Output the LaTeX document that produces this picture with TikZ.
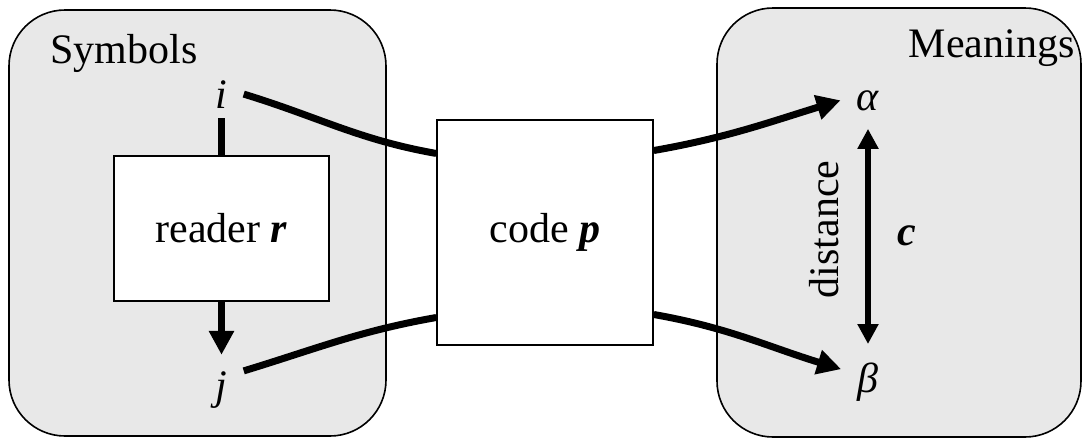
\documentclass[tikz,border=0pt]{standalone}
\usepackage{fontspec}
\setmainfont{Liberation Serif}
\usetikzlibrary{
    positioning,
    arrows.meta
    }
\definecolor{panelgray}{RGB}{232,232,232}

\begin{document}
\begin{tikzpicture}[x=0.5pt, y=0.5pt, font=\fontsize{21}{25}\selectfont]
\tikzset{panel/.style =
        {
            rectangle,
            rounded corners=28pt,
            draw=black,
            line width=0.8pt,
            fill=panelgray,
            inner sep=0pt
        }
}

\tikzset{block/.style =
        {
            rectangle,
            draw=black,
            line width=0.8pt,
            fill=white,
            inner sep=0pt
        }
}

\tikzset{title/.style =
        {
            inner sep=0pt
        }
}

\tikzset{sym/.style =
        {
            inner xsep=8pt,
            inner ysep=5pt,
            font=\fontsize{21}{25}\selectfont\itshape
        }
}

\tikzset{flow/.style = {
            line width=3.5pt,
            -{Triangle[length=12pt, width=12pt]}
        }
}

\tikzset{link/.style = {
            flow,
            -
        }
}

\tikzset{gap/.style = {
            line width=3.2pt,
            {Triangle[length=10pt, width=10pt]}-{Triangle[length=10pt, width=10pt]},
            shorten <=4pt,
            shorten >=4pt
        }
}
		\useasboundingbox (0,0) rectangle (1083,441);

		\node[panel, minimum width=188.5pt, minimum height=213pt] (symbols) at (197.5,218) {};
		\node[panel, minimum width=182pt, minimum height=214.5pt] (meanings) at (899,218.5) {};
		\node[title, anchor=base west] (symbols-title) at (50,378) {Symbols};
		\node[title, anchor=base east] (meanings-title) at (1075,384) {Meanings};

		\node[block, minimum width=107.5pt, minimum height=72.5pt] (reader) at (221.5,212.5) {reader \textbf{\textit{r}}};
		\node[block, minimum width=108pt, minimum height=112.5pt] (code) at (545,208.5) {code \textbf{\textit{p}}};

		\node[sym, anchor=base] (i) at (221.5,333) {i};
		\node[sym, anchor=base] (j) at (221.5,42) {j};
		\node[sym, anchor=base] (alpha) at (868,331) {α};
		\node[sym, anchor=base] (beta) at (868,49) {β};
		\node[title, anchor=base, rotate=90] (dist) at (838,211.5) {distance};
		\node[title, anchor=base, font=\fontsize{21}{25}\selectfont\bfseries\itshape] (c) at (907,196) {c};

		\draw [link] (i) -- (reader);
		\draw [flow, shorten >=3pt] (reader) -- (j);
		\draw [gap] (alpha) -- (beta);

		\foreach \start / \finish / \outang / \inang in
			{i.east/code.144/-17/170,
				j.40/code.218/17/190}
		\draw [link] (\start) to[out=\outang, in=\inang] (\finish);
		\foreach \start / \finish / \outang / \inang in
			{code.37/alpha.west/10/197,
				code.323/beta.155/-10/163}
		\draw [flow] (\start) to[out=\outang, in=\inang] (\finish);

	\end{tikzpicture}
\end{document}
